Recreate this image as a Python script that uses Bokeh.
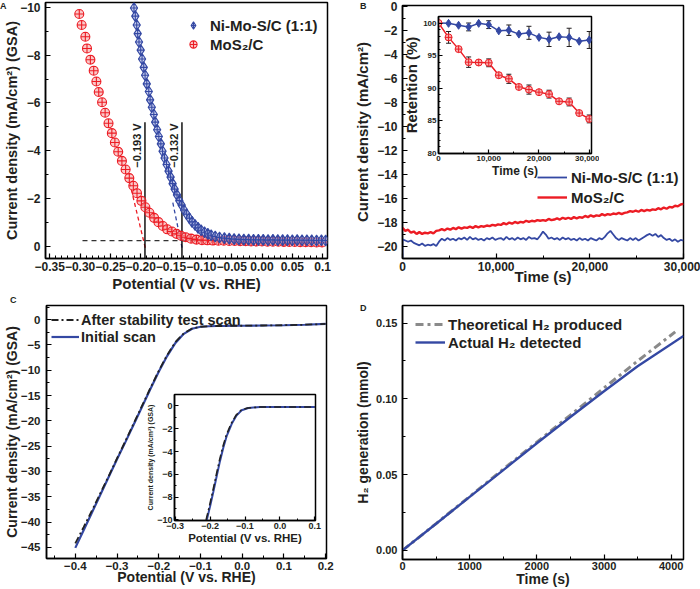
from bokeh.plotting import figure
from bokeh.layouts import row, column
from bokeh.models import (Range1d, Legend, LegendItem, SingleIntervalTicker, Div,
                          CustomJSTickFormatter, GridBox, ColumnDataSource, Whisker, TeeHead)
from bokeh.core.properties import value
from bokeh.embed import file_html
from bokeh.resources import INLINE

FONT = "Liberation Sans"
INK = "#231f20"
BLUE = "#3448a3"
RED = "#ec1c24"

# ---------------- Panel A data ----------------
a_ni_x = [-0.2111, -0.2089, -0.2066, -0.2050, -0.2028, -0.2000, -0.1978, -0.1950, -0.1928, -0.1900,
          -0.1867, -0.1845, -0.1817, -0.1784, -0.1762, -0.1729, -0.1701, -0.1668, -0.1640, -0.1607,
          -0.1574, -0.1541, -0.1507, -0.1474, -0.1441, -0.1402, -0.1364, -0.1325, -0.1286, -0.1242,
          -0.1197, -0.1153, -0.1103, -0.1054, -0.1004, -0.0948, -0.0893, -0.0838, -0.0771, -0.0700,
          -0.0620, -0.0540, -0.0460, -0.0380, -0.0300, -0.0220, -0.0140, -0.0060, 0.0020, 0.0100,
          0.0180, 0.0260, 0.0340, 0.0420, 0.0500, 0.0580, 0.0660, 0.0740, 0.0820, 0.0900, 0.0980, 0.1050]
a_ni_y = [-9.97, -9.63, -9.26, -8.90, -8.55, -8.21, -7.84, -7.49, -7.16, -6.80,
          -6.48, -6.13, -5.82, -5.52, -5.20, -4.88, -4.60, -4.29, -3.98, -3.70,
          -3.43, -3.15, -2.90, -2.63, -2.40, -2.16, -1.92, -1.73, -1.53, -1.35,
          -1.18, -1.03, -0.90, -0.78, -0.68, -0.60, -0.53, -0.47, -0.42, -0.38,
          -0.35, -0.33, -0.31, -0.30, -0.29, -0.29, -0.28, -0.28, -0.28, -0.27,
          -0.28, -0.27, -0.27, -0.27, -0.26, -0.27, -0.26, -0.26, -0.26, -0.25, -0.26, -0.25]
a_mos_x = [-0.3013, -0.2974, -0.2913, -0.2886, -0.2830, -0.2775, -0.2731, -0.2692, -0.2637, -0.2587,
           -0.2531, -0.2476, -0.2426, -0.2371, -0.2310, -0.2249, -0.2188, -0.2122, -0.2061, -0.1989,
           -0.1923, -0.1856, -0.1779, -0.1707, -0.1635, -0.1563, -0.1485, -0.1408, -0.1336, -0.1258,
           -0.1170, -0.1081, -0.0990, -0.0900, -0.0810, -0.0720, -0.0630, -0.0540, -0.0450, -0.0360,
           -0.0270, -0.0180, -0.0090, 0.0000, 0.0090, 0.0180, 0.0270, 0.0360, 0.0450, 0.0540,
           0.0630, 0.0720, 0.0810, 0.0900, 0.0990]
a_mos_y = [-9.72, -9.26, -8.77, -8.28, -7.81, -7.35, -6.90, -6.46, -6.03, -5.59,
           -5.15, -4.74, -4.35, -3.96, -3.58, -3.22, -2.86, -2.54, -2.23, -1.91,
           -1.64, -1.41, -1.20, -1.02, -0.86, -0.72, -0.63, -0.53, -0.45, -0.39,
           -0.33, -0.29, -0.27, -0.26, -0.25, -0.24, -0.24, -0.23, -0.23, -0.22,
           -0.22, -0.21, -0.21, -0.21, -0.20, -0.20, -0.20, -0.19, -0.19, -0.19,
           -0.18, -0.18, -0.18, -0.17, -0.17]
a_mos_tan_x = [-0.1925, -0.2190]
a_mos_tan_y = [0.05, -2.75]
a_ni_tan_x = [-0.1318, -0.1480]
a_ni_tan_y = [0.05, -1.95]
a_base_x = [-0.296, 0.105]
a_base_y = [-0.25, -0.25]
a_onset_x = [-0.193, -0.132]
a_onset_labels = ["\u22120.193 V", "\u22120.132 V"]
a_xticks = [-0.35, -0.30, -0.25, -0.20, -0.15, -0.10, -0.05, 0.00, 0.05, 0.10]
a_xlabels = ["\u22120.35", "\u22120.30", "\u22120.25", "\u22120.20", "\u22120.15", "\u22120.10",
             "\u22120.05", "0.00", "0.05", "0.1"]
a_yticks = [0, -2, -4, -6, -8, -10]
a_ylabels = ["0", "\u22122", "\u22124", "\u22126", "\u22128", "\u221210"]

# ---------------- Panel B data ----------------
b_step = 300
b_ni_j = [-19.40, -19.50, -19.60, -19.50, -19.70, -19.80, -19.90, -19.75, -19.95, -19.85,
          -19.90, -19.80, -19.95, -19.60, -19.35, -19.50, -19.30, -19.45, -19.35, -19.50,
          -19.30, -19.40, -19.25, -19.45, -19.20, -19.40, -19.30, -19.45, -19.35, -19.50,
          -19.30, -19.40, -19.25, -19.45, -19.35, -19.30, -19.45, -19.20, -19.40, -19.30,
          -19.45, -19.25, -19.40, -19.30, -19.45, -19.20, -19.35, -19.30, -19.40, -19.10,
          -18.75, -19.00, -19.35, -19.25, -19.40, -19.30, -19.45, -19.25, -19.40, -19.30,
          -19.45, -19.35, -19.50, -19.30, -19.45, -19.35, -19.50, -19.30, -19.40, -19.50,
          -19.30, -19.40, -19.20, -18.90, -18.70, -19.00, -19.30, -19.45, -19.30, -19.40,
          -19.50, -19.30, -19.45, -19.30, -19.50, -19.35, -19.20, -19.05, -18.95, -19.10,
          -18.95, -19.20, -19.05, -19.30, -19.45, -19.35, -19.55, -19.40, -19.60, -19.45,
          -19.50]
b_ni_start = -21.0
b_mos_j = [-18.45, -18.70, -18.60, -18.85, -18.75, -18.95, -18.80, -18.95, -18.85, -18.90,
           -18.80, -18.90, -18.70, -18.65, -18.55, -18.65, -18.50, -18.60, -18.45, -18.55,
           -18.40, -18.50, -18.40, -18.45, -18.35, -18.45, -18.30, -18.40, -18.30, -18.35,
           -18.25, -18.30, -18.20, -18.25, -18.15, -18.20, -18.05, -18.15, -18.00, -18.10,
           -17.95, -18.05, -17.95, -18.00, -17.85, -17.95, -17.85, -17.90, -17.80, -17.85,
           -17.80, -17.85, -17.70, -17.80, -17.75, -17.65, -17.75, -17.60, -17.70, -17.60,
           -17.70, -17.55, -17.65, -17.55, -17.60, -17.45, -17.55, -17.40, -17.50, -17.40,
           -17.45, -17.30, -17.40, -17.30, -17.35, -17.25, -17.30, -17.20, -17.30, -17.20,
           -17.15, -17.05, -17.10, -17.00, -17.10, -16.95, -17.05, -16.95, -17.00, -16.90,
           -16.95, -16.80, -16.90, -16.75, -16.85, -16.70, -16.75, -16.60, -16.65, -16.50,
           -16.45]
b_xticks = [0, 10000, 20000, 30000]
b_xlabels = ["0", "10,000", "20,000", "30,000"]
b_yticks = [0, -2, -4, -6, -8, -10, -12, -14, -16, -18, -20]
b_ylabels = ["0", "\u22122", "\u22124", "\u22126", "\u22128", "\u221210", "\u221212",
             "\u221214", "\u221216", "\u221218", "\u221220"]

# inset B
bi_t = [0, 2000, 4000, 6000, 8000, 10000, 12000, 14000, 16000, 18000, 20000, 22000, 24000, 26000, 28000, 30000]
bi_ni = [100.0, 99.95, 99.65, 99.4, 99.95, 99.75, 98.8, 98.9, 98.3, 98.5, 97.8, 97.5, 97.9, 97.8, 97.2, 97.4]
bi_ni_err = [0, 0, 0, 0.6, 0, 0.6, 0, 0.8, 0, 1.0, 0, 1.1, 0, 1.4, 0, 1.3]
bi_mos = [100.0, 97.8, 96.0, 94.0, 93.95, 93.9, 92.0, 91.45, 90.2, 89.8, 89.4, 89.1, 88.0, 87.9, 86.2, 85.3]
bi_mos_err = [0, 0.9, 0, 0.8, 0, 0.6, 0, 0.7, 0, 0.7, 0, 0.6, 0, 0.6, 0, 0.6]
bi_yticks = [80, 85, 90, 95, 100]
bi_ylabels = ["80", "85", "90", "95", "100"]

# ---------------- Panel C data ----------------
c_x = [-0.40, -0.38, -0.36, -0.34, -0.32, -0.30, -0.28, -0.26, -0.24, -0.22, -0.20, -0.18, -0.16,
       -0.14, -0.12, -0.10, -0.08, -0.06, -0.04, -0.02, 0.00, 0.05, 0.10, 0.15, 0.20]
c_initial = [-45.1, -41.6, -38.1, -34.6, -31.1, -27.6, -24.2, -20.7, -17.2, -13.7, -10.3, -7.2, -4.6,
             -2.8, -1.8, -1.4, -1.3, -1.25, -1.25, -1.2, -1.2, -1.15, -1.1, -1.0, -0.85]
c_after = [-44.2, -41.0, -37.7, -34.3, -30.9, -27.4, -24.0, -20.5, -17.0, -13.5, -10.1, -7.0, -4.4,
           -2.7, -1.75, -1.4, -1.3, -1.25, -1.25, -1.2, -1.2, -1.15, -1.1, -1.0, -0.85]
c_xticks = [-0.4, -0.3, -0.2, -0.1, 0.0, 0.1, 0.2]
c_xlabels = ["\u22120.4", "\u22120.3", "\u22120.2", "\u22120.1", "0.0", "0.1", "0.2"]
c_yticks = [0, -5, -10, -15, -20, -25, -30, -35, -40, -45]
c_ylabels = ["0", "\u22125", "\u221210", "\u221215", "\u221220", "\u221225", "\u221230",
             "\u221235", "\u221240", "\u221245"]

# inset C
ci_x_initial = [-0.2095, -0.2000, -0.1905, -0.1810, -0.1714, -0.1620, -0.1520, -0.1380, -0.1240,
                -0.1095, -0.0905, -0.0570, -0.0200, 0.0200, 0.0600, 0.1000]
ci_x_after = [-0.2115, -0.2020, -0.1925, -0.1830, -0.1734, -0.1640, -0.1540, -0.1400, -0.1260,
              -0.1115, -0.0925, -0.0570, -0.0200, 0.0200, 0.0600, 0.1000]
ci_j = [-10.0, -8.8, -7.5, -6.15, -4.8, -3.64, -2.6, -1.57, -0.83, -0.38, -0.18, -0.10,
        -0.09, -0.09, -0.09, -0.09]
ci_xticks = [-0.3, -0.2, -0.1, 0.0, 0.1]
ci_xlabels = ["\u22120.3", "\u22120.2", "\u22120.1", "0.0", "0.1"]
ci_yticks = [0, -2, -4, -6, -8, -10]
ci_ylabels = ["0", "\u22122", "\u22124", "\u22126", "\u22128", "\u221210"]

# ---------------- Panel D data ----------------
d_theo_t = [0, 500, 1000, 1500, 2000, 2500, 3000, 3500, 4060]
d_theo = [0.0, 0.0177, 0.0356, 0.0536, 0.0714, 0.0893, 0.1072, 0.1250, 0.1442]
d_act_t = [0, 500, 1000, 1500, 2000, 2500, 3000, 3500, 4183]
d_act = [0.0, 0.0176, 0.0353, 0.0530, 0.0707, 0.0880, 0.1050, 0.1215, 0.1415]
d_xticks = [0, 1000, 2000, 3000, 4000]
d_xlabels = ["0", "1000", "2000", "3000", "4000"]
d_yticks = [0.00, 0.05, 0.10, 0.15]
d_ylabels = ["0.00", "0.05", "0.10", "0.15"]


def fmt(ticks, labels):
    return CustomJSTickFormatter(args=dict(t=ticks, l=labels), code="""
        for (let i = 0; i < t.length; i++) {
            if (Math.abs(t[i] - tick) < 1e-6 * Math.max(1, Math.abs(t[i]))) { return l[i]; }
        }
        return "";
    """)


def make_fig(w, h, xr, yr, borders, inset=False):
    l, r, t, b = borders
    p = figure(width=w, height=h, x_range=Range1d(*xr), y_range=Range1d(*yr),
               output_backend="svg", toolbar_location=None,
               min_border_left=l, min_border_right=r, min_border_top=t, min_border_bottom=b)
    p.grid.visible = False
    p.outline_line_color = "black"
    p.outline_line_width = 1.5
    p.outline_line_alpha = 1
    p.background_fill_color = "white"
    if inset:
        p.border_fill_alpha = 0
    else:
        p.border_fill_color = "white"
    for ax in (p.xaxis[0], p.yaxis[0]):
        ax.axis_line_width = 1.5
        ax.axis_line_color = "black"
        ax.major_tick_in = 5 if not inset else 4
        ax.major_tick_out = 0
        ax.minor_tick_in = 3 if not inset else 2
        ax.minor_tick_out = 0
        ax.major_tick_line_width = 1.2
        ax.minor_tick_line_width = 1
        ax.major_label_text_font = FONT
        ax.major_label_text_font_style = "bold"
        ax.major_label_text_color = INK
        ax.axis_label_text_font = FONT
        ax.axis_label_text_font_style = "bold"
        ax.axis_label_text_color = INK
    return p


def set_axis(ax, interval, minor, ticks, labels, fsize, label, lsize, lstand, mstand):
    ax.ticker = SingleIntervalTicker(interval=interval, num_minor_ticks=minor)
    ax.formatter = fmt(ticks, labels)
    ax.major_label_text_font_size = fsize
    ax.axis_label = label
    ax.axis_label_text_font_size = lsize
    ax.axis_label_standoff = lstand
    ax.major_label_standoff = mstand


def make_legend(items, loc, fsize, gw, gh, standoff, padding, spacing):
    leg = Legend(items=items, location=loc)
    leg.label_text_font = FONT
    leg.label_text_font_style = "bold"
    leg.label_text_font_size = fsize
    leg.label_text_color = INK
    leg.glyph_width = gw
    leg.glyph_height = gh
    leg.label_height = gh
    leg.label_standoff = standoff
    leg.padding = padding
    leg.spacing = spacing
    leg.margin = 0
    leg.border_line_alpha = 0
    leg.background_fill_alpha = 0
    return leg


def overlay(main, w, h, child, x, y, cw, ch):
    return GridBox(children=[(main, 0, 0, 3, 3), (child, 1, 1)],
                   rows=[f"{y}px", f"{ch}px", f"{h - y - ch}px"],
                   cols=[f"{x}px", f"{cw}px", f"{w - x - cw}px"])


def letter(text):
    return Div(text=text, width=10, height=11, margin=0,
               styles={"font-family": FONT, "font-weight": "bold", "font-size": "9px",
                       "color": INK, "line-height": "10px"})


# ---------------- Panel A ----------------
pA = make_fig(350, 295, (-0.357, 0.108), (0.5, -10.2), (45, 23, 2, 37))
set_axis(pA.xaxis[0], 0.05, 5, a_xticks, a_xlabels, "12px", "Potential (V vs. RHE)", "15px", 1, 3)
set_axis(pA.yaxis[0], 2, 2, a_yticks, a_ylabels, "12px", "Current density (mA/cm\u00b2) (GSA)", "14.5px", -3, 5)
pA.line(a_base_x, a_base_y, line_color="#333333", line_dash="5 4", line_width=1.2)
pA.line(a_mos_tan_x, a_mos_tan_y, line_color=RED, line_dash="4 3", line_width=1.3)
pA.line(a_ni_tan_x, a_ni_tan_y, line_color=BLUE, line_dash="4 3", line_width=1.3)
pA.segment(x0=a_onset_x, y0=[0.6, 0.6], x1=a_onset_x, y1=[-5.2, -5.2], line_color="black", line_width=1.4)
pA.text(x=a_onset_x, y=[-5.15, -5.15], text=a_onset_labels, angle=1.5708, x_offset=-2,
        text_align="right", text_baseline="bottom", text_font=value(FONT),
        text_font_style="bold", text_font_size="11px", text_color=INK)
rA_mos = pA.scatter(a_mos_x, a_mos_y, marker="circle_cross", size=9, line_color=RED,
                    fill_color="#f59a9a", fill_alpha=0.55, line_width=1.1)
rA_ni = pA.scatter(a_ni_x, a_ni_y, marker="diamond_cross", size=11, line_color=BLUE,
                   fill_color="#9aa6de", fill_alpha=0.55, line_width=1.1)
pA.add_layout(make_legend([LegendItem(label="Ni-Mo-S/C (1:1)", renderers=[rA_ni]),
                           LegendItem(label="MoS\u2082/C", renderers=[rA_mos])],
                          (135, 202), "15px", 20, 18, 7, 3, 1))
gA = overlay(pA, 350, 295, letter("A"), 0, 1, 10, 11)

# ---------------- Panel B ----------------
b_t = [b_step * i for i in range(len(b_mos_j))]
pB = make_fig(350, 295, (0, 30000), (-21, 0.1), (52, 17, 5, 37))
set_axis(pB.xaxis[0], 10000, 2, b_xticks, b_xlabels, "12px", "Time (s)", "15px", -6, 3)
set_axis(pB.yaxis[0], 2, 2, b_yticks, b_ylabels, "12px", "Current density (mA/cm\u00b2)", "15px", 3, 5)
rB_ni = pB.line([0] + b_t, [b_ni_start] + b_ni_j, line_color=BLUE, line_width=1.8)
rB_mos = pB.line(b_t, b_mos_j, line_color=RED, line_width=2.4)
pB.add_layout(make_legend([LegendItem(label="Ni-Mo-S/C (1:1)", renderers=[rB_ni]),
                           LegendItem(label="MoS\u2082/C", renderers=[rB_mos])],
                          (133, 49), "15px", 30, 20, 4, 2, 0))

pBi = make_fig(199, 168, (0, 30450), (80, 101), (36, 8, 4, 26), inset=True)
set_axis(pBi.xaxis[0], 10000, 2, b_xticks, b_xlabels, "8px", "Time (s)", "12px", 0, 2)
set_axis(pBi.yaxis[0], 5, 5, bi_yticks, bi_ylabels, "8px", "Retention (%)", "15px", 0, 2)
for vals, errs in ((bi_ni, bi_ni_err), (bi_mos, bi_mos_err)):
    src = ColumnDataSource(dict(
        t=[t for t, e in zip(bi_t, errs) if e > 0],
        u=[v + e for v, e in zip(vals, errs) if e > 0],
        lo=[v - e for v, e in zip(vals, errs) if e > 0]))
    pBi.add_layout(Whisker(source=src, base="t", upper="u", lower="lo", line_color=INK, line_width=1,
                           upper_head=TeeHead(size=5, line_color=INK, line_width=1),
                           lower_head=TeeHead(size=5, line_color=INK, line_width=1)))
pBi.line(bi_t, bi_ni, line_color=BLUE, line_width=1.5)
pBi.scatter(bi_t, bi_ni, marker="diamond", size=8, line_color=BLUE, fill_color=BLUE)
pBi.line(bi_t, bi_mos, line_color=RED, line_width=1.5)
pBi.scatter(bi_t, bi_mos, marker="circle_cross", size=7, line_color=RED, fill_color="#f7b3b3")

gB0 = overlay(pB, 350, 295, pBi, 50, 12, 199, 168)
gB = overlay(gB0, 350, 295, letter("B"), 10, 1, 10, 11)

# ---------------- Panel C ----------------
pC = make_fig(350, 294, (-0.469, 0.202), (-47.2, 2.8), (45, 24, 10, 31))
set_axis(pC.xaxis[0], 0.1, 2, c_xticks, c_xlabels, "11.5px", "Potential (V vs. RHE)", "14px", -4, 3)
set_axis(pC.yaxis[0], 5, 2, c_yticks, c_ylabels, "11.5px", "Current density (mA/cm\u00b2) (GSA)", "14px", -2, 6)
rC_init = pC.line(c_x, c_initial, line_color=BLUE, line_width=2.2)
rC_after = pC.line(c_x, c_after, line_color="#222222", line_width=1.8, line_dash="7 3 2 3")
pC.add_layout(make_legend([LegendItem(label="After stability test scan", renderers=[rC_after]),
                           LegendItem(label="Initial scan", renderers=[rC_init])],
                          (3, 211), "14.5px", 28, 17, 2, 2, 0))

pCi = make_fig(179, 156, (-0.302, 0.102), (-10.05, 1.0), (30, 8, 4, 26), inset=True)
set_axis(pCi.xaxis[0], 0.1, 2, ci_xticks, ci_xlabels, "9px", "Potential (V vs. RHE)", "11.5px", 0, 2)
set_axis(pCi.yaxis[0], 2, 2, ci_yticks, ci_ylabels, "9px", "Current density (mA/cm\u00b2) (GSA)", "7px", 0, 2)
pCi.line(ci_x_initial, ci_j, line_color=BLUE, line_width=2)
pCi.line(ci_x_after, ci_j, line_color="#222222", line_width=1.6, line_dash="7 3 2 3")

gC0 = overlay(pC, 350, 294, pCi, 144, 95, 179, 156)
gC = overlay(gC0, 350, 294, letter("C"), 10, 0, 10, 11)

# ---------------- Panel D ----------------
pD = make_fig(350, 294, (0, 4183), (-0.006, 0.1616), (52, 17, 10, 29))
set_axis(pD.xaxis[0], 1000, 2, d_xticks, d_xlabels, "11px", "Time (s)", "14px", -2, 2)
set_axis(pD.yaxis[0], 0.05, 2, d_yticks, d_ylabels, "11px", "H\u2082 generation (mmol)", "14px", 2, 5)
rD_theo = pD.line(d_theo_t, d_theo, line_color="#8a8a8a", line_width=3, line_dash="8 4 3 4")
rD_act = pD.line(d_act_t, d_act, line_color=BLUE, line_width=2.4)
pD.add_layout(make_legend([LegendItem(label="Theoretical H\u2082 produced", renderers=[rD_theo]),
                           LegendItem(label="Actual H\u2082 detected", renderers=[rD_act])],
                          (11, 206), "15px", 30, 18, 3, 2, 0))
gD = overlay(pD, 350, 294, letter("D"), 10, 8, 10, 11)

layout = column(row(gA, gB), row(gC, gD))
open("out.html", "w").write(file_html(layout, INLINE))
